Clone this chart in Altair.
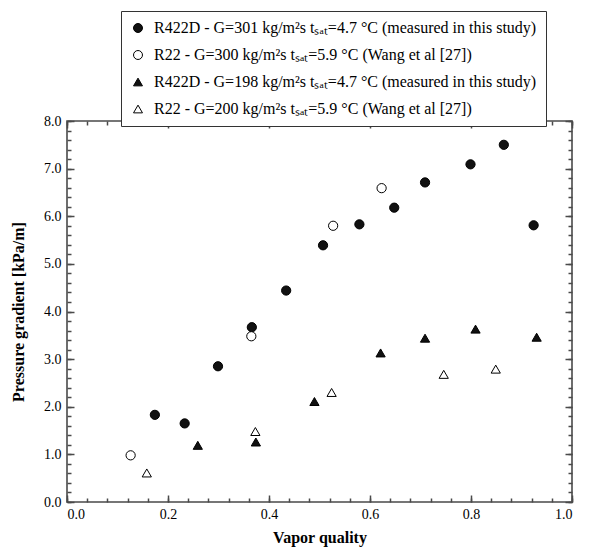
import altair as alt
import pandas as pd

# ---- data ----
s1_name = "R422D - G=301 kg/m²s tₛₐₜ=4.7 °C (measured in this study)"
s2_name = "R22 - G=300 kg/m²s tₛₐₜ=5.9 °C (Wang et al  [27])"
s3_name = "R422D - G=198 kg/m²s tₛₐₜ=4.7 °C (measured in this study)"
s4_name = "R22 - G=200 kg/m²s tₛₐₜ=5.9 °C (Wang et al [27])"

s1_x = [0.174, 0.233, 0.299, 0.366, 0.434, 0.507, 0.579, 0.648, 0.709, 0.799, 0.865, 0.924]
s1_y = [1.83, 1.65, 2.85, 3.67, 4.44, 5.39, 5.83, 6.18, 6.71, 7.09, 7.50, 5.81]

s2_x = [0.126, 0.365, 0.527, 0.623]
s2_y = [0.98, 3.48, 5.80, 6.59]

s3_x = [0.259, 0.374, 0.490, 0.621, 0.709, 0.809, 0.930]
s3_y = [1.19, 1.26, 2.11, 3.13, 3.44, 3.63, 3.46]

s4_x = [0.158, 0.373, 0.524, 0.746, 0.849]
s4_y = [0.61, 1.48, 2.30, 2.68, 2.79]

series_names = [s1_name, s2_name, s3_name, s4_name]
series_shapes = ["circle", "circle", "triangle-up", "triangle-up"]
series_fills = ["#111111", "white", "#111111", "white"]
series_strokes = ["black", "black", "black", "black"]

x_major = [0.0, 0.2, 0.4, 0.6, 0.8, 1.0]
x_minor = [round(i * 0.04, 2) for i in range(26)]
y_major = [0.0, 1.0, 2.0, 3.0, 4.0, 5.0, 6.0, 7.0, 8.0]
y_minor = [round(i * 0.2, 1) for i in range(41)]

rows = []
for name, xs, ys in [(s1_name, s1_x, s1_y), (s2_name, s2_x, s2_y),
                     (s3_name, s3_x, s3_y), (s4_name, s4_x, s4_y)]:
    for xv, yv in zip(xs, ys):
        rows.append({"series": name, "x": xv, "y": yv})
df = pd.DataFrame(rows)

FONT = "Liberation Serif"
AX = "#4a4a4a"
W, H = 505, 381

xscale = alt.Scale(domain=[0, 1], nice=False, zero=False)
yscale = alt.Scale(domain=[0, 8], nice=False, zero=False)

legend = alt.Legend(
    orient="none", legendX=54, legendY=-110, title=None,
    strokeColor="#333333", fillColor="white", padding=9,
    rowPadding=11, labelOffset=8, symbolSize=80,
    symbolStrokeColor="black", symbolStrokeWidth=1,
    labelFont=FONT, labelFontSize=16, labelColor="black", labelLimit=700,
)

base = alt.Chart(df)

points = base.mark_point(filled=True, stroke="black", strokeWidth=1, size=85, opacity=1).encode(
    x=alt.X("x:Q", scale=xscale,
            axis=alt.Axis(orient="bottom", values=x_major, format=".1f", title="Vapor quality",
                          ticks=False, labelPadding=5, labelFont=FONT, labelFontSize=14,
                          labelColor="black", titleFont=FONT, titleFontSize=16,
                          titleFontWeight="bold", titleColor="black",
                          titlePadding=8, domain=False, grid=False)),
    y=alt.Y("y:Q", scale=yscale,
            axis=alt.Axis(orient="left", values=y_major, format=".1f", title="Pressure gradient [kPa/m]",
                          ticks=False, labelPadding=6, labelFont=FONT, labelFontSize=14,
                          labelColor="black", titleFont=FONT, titleFontSize=16,
                          titleFontWeight="bold", titleColor="black",
                          titlePadding=17, domain=False, grid=False)),
    shape=alt.Shape("series:N", scale=alt.Scale(domain=series_names, range=series_shapes), legend=legend),
    fill=alt.Fill("series:N", scale=alt.Scale(domain=series_names, range=series_fills), legend=legend),
    stroke=alt.Stroke("series:N", scale=alt.Scale(domain=series_names, range=series_strokes), legend=legend),
)


def ghost(xorient, yorient, xvals, yvals, size):
    # axes placed on the opposite edge (negative offset) so that ticks point inward
    return base.mark_point(opacity=0).encode(
        x=alt.X("x:Q", scale=xscale,
                axis=alt.Axis(orient=xorient, offset=-H, values=xvals, labels=False, title=None,
                              tickSize=size, tickColor=AX, tickWidth=1.5,
                              domain=False, grid=False)),
        y=alt.Y("y:Q", scale=yscale,
                axis=alt.Axis(orient=yorient, offset=-W, values=yvals, labels=False, title=None,
                              tickSize=size, tickColor=AX, tickWidth=1.5,
                              domain=False, grid=False)),
    )


chart = alt.layer(
    points,
    ghost("top", "right", x_major, y_major, 7),   # bottom & left edges, inward
    ghost("top", "right", x_minor, y_minor, 4),
    ghost("bottom", "left", x_major, y_major, 7),  # top & right edges, inward
    ghost("bottom", "left", x_minor, y_minor, 4),
).resolve_axis(x="independent", y="independent").properties(
    width=W, height=H,
    autosize=alt.AutoSizeParams(type="none"),
    padding={"left": 59, "top": 113, "right": 31, "bottom": 48},
).configure_view(stroke=AX, strokeWidth=1.6)

chart.save("out.html", embed_options={"renderer": "svg", "actions": False})
